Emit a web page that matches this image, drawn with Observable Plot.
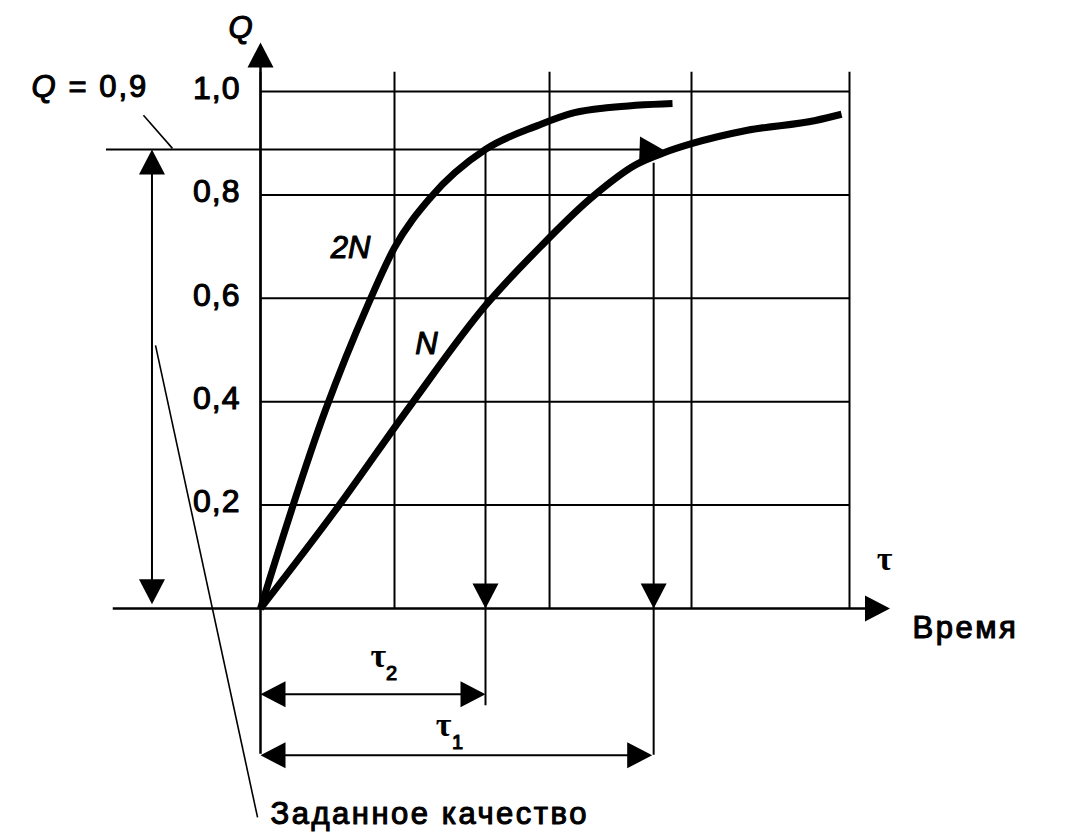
<!DOCTYPE html>
<html><head><meta charset="utf-8">
<script src="https://cdn.jsdelivr.net/npm/d3@7"></script>
<script src="https://cdn.jsdelivr.net/npm/@observablehq/plot@0.6"></script>
<style>body{margin:0;background:#fff}</style>
</head><body><div id="chart"></div>
<script>
// Curve 2N (time, quality)
const tau2N = [0, 0.44, 0.727, 0.910, 1.155, 1.528, 1.881, 2.132, 2.370, 2.798];
const q2N   = [0, 0.383, 0.586, 0.698, 0.795, 0.888, 0.934, 0.959, 0.969, 0.977];
// Curve N
const tauN = [0, 0.509, 1.019, 1.528, 1.902, 2.241, 2.553, 2.744, 2.927, 3.307, 3.769, 3.946];
const qN   = [0, 0.190, 0.393, 0.586, 0.700, 0.793, 0.859, 0.882, 0.899, 0.925, 0.944, 0.956];
// Grid
const gridX = [0, 0.91, 1.963, 2.927, 4.0];
const gridY = [0.2, 0.4, 0.6, 0.8, 1.0];
const yTickLabels = ["0,2", "0,4", "0,6", "0,8", "1,0"];
// Target quality and times to reach it
const qTarget = 0.888;
const tau2 = 1.528;
const tau1 = 2.67;

const rows2N = tau2N.map((t, i) => ({t, q: q2N[i]}));
const rowsN = tauN.map((t, i) => ({t, q: qN[i]}));
const ticks = gridY.map((v, i) => ({v, label: yTickLabels[i]}));

// filled triangle with tip at origin, pointing up
const tri = {draw(ctx, size) {
  const r = Math.sqrt(size / Math.PI);
  ctx.moveTo(0, 0); ctx.lineTo(-r * 0.52, r); ctx.lineTo(r * 0.52, r); ctx.closePath();
}};
const heads = [
  {t: 0, q: 1.095, rot: 0},          // y axis
  {t: 4.275, q: 0, rot: 90},          // x axis
  {t: tau2, q: 0, rot: 180},
  {t: tau1, q: 0, rot: 180},
  {t: -0.737, q: qTarget, rot: 0},
  {t: -0.737, q: 0.008, rot: 180},
  {t: 0, q: -0.166, rot: -90},
  {t: tau2, q: -0.166, rot: 90},
  {t: 0, q: -0.284, rot: -90},
  {t: tau1 - 0.01, q: -0.284, rot: 90},
  {t: 2.744, q: 0.886, rot: 92}
];
const font = "'Liberation Sans', Arial, sans-serif";
const serif = "'Liberation Serif', 'Times New Roman', serif";
const heavy = {stroke: "black", strokeWidth: 1.1, fill: "black"};

const chart = Plot.plot({
  width: 1078, height: 838,
  marginLeft: 260, marginRight: 229, marginTop: 91, marginBottom: 230,
  x: {domain: [0, 4], axis: null},
  y: {domain: [0, 1], axis: null},
  style: {fontFamily: font, fontSize: "31px", background: "white", color: "black"},
  marks: [
    Plot.ruleX(gridX, {y1: 0, y2: 1.037, strokeWidth: 2}),
    Plot.ruleY(gridY, {x1: 0, x2: 4, strokeWidth: 2}),
    Plot.ruleY([0], {x1: -1.0, x2: 4.2, strokeWidth: 2.5}),
    Plot.ruleX([0], {y1: -0.282, y2: 1.06, strokeWidth: 2.5}),
    Plot.ruleY([qTarget], {x1: -1.046, x2: 2.58, strokeWidth: 2}),
    Plot.ruleX([tau2], {y1: -0.188, y2: qTarget, strokeWidth: 2}),
    Plot.ruleX([tau1], {y1: -0.284, y2: 0.861, strokeWidth: 2}),
    Plot.ruleX([-0.737], {y1: 0.03, y2: qTarget - 0.03, strokeWidth: 2}),
    Plot.ruleY([-0.166], {x1: 0.1, x2: tau2 - 0.1, strokeWidth: 2}),
    Plot.ruleY([-0.284], {x1: 0.1, x2: tau1 - 0.1, strokeWidth: 2}),
    Plot.link([0], {x1: -0.795, y1: 0.954, x2: -0.598, y2: 0.89, strokeWidth: 1.6}),
    Plot.link([0], {x1: -0.713, y1: 0.509, x2: -0.02, y2: -0.404, strokeWidth: 1.6}),
    Plot.line(rows2N, {x: "t", y: "q", curve: "monotone-x", strokeWidth: 7, strokeLinecap: "butt"}),
    Plot.line(rowsN, {x: "t", y: "q", curve: "monotone-x", strokeWidth: 7, strokeLinecap: "butt"}),
    Plot.dot(heads, {x: "t", y: "q", rotate: "rot", symbol: tri, r: 25, fill: "black", stroke: "none"}),
    Plot.text(ticks, {x: -0.136, y: "v", text: "label", textAnchor: "end", dy: -3, fontSize: 32, ...heavy}),
    Plot.text(["Q"], {x: -0.136, y: 1.122, fontStyle: "italic", fontSize: 31, ...heavy}),
    Plot.text(["Q"], {x: -1.474, y: 1.008, fontStyle: "italic", fontSize: 31, ...heavy}),
    Plot.text(["= 0,9"], {x: -1.304, y: 1.008, textAnchor: "start", fontSize: 31, ...heavy}),
    Plot.text(["2N"], {x: 0.611, y: 0.698, fontStyle: "italic", fontSize: 31, ...heavy}),
    Plot.text(["N"], {x: 1.127, y: 0.511, fontStyle: "italic", fontSize: 31, ...heavy}),
    Plot.text(["τ"], {x: 4.238, y: 0.095, fontSize: 34, fontFamily: serif, fontWeight: "bold"}),
    Plot.text(["Время"], {x: 4.428, y: -0.038, textAnchor: "start", fontSize: 31, ...heavy}),
    Plot.text(["τ"], {x: 0.801, y: -0.093, fontSize: 34, fontFamily: serif, fontWeight: "bold"}),
    Plot.text(["2"], {x: 0.89, y: -0.126, fontSize: 20, ...heavy}),
    Plot.text(["τ"], {x: 1.243, y: -0.226, fontSize: 34, fontFamily: serif, fontWeight: "bold"}),
    Plot.text(["1"], {x: 1.338, y: -0.259, fontSize: 20, ...heavy}),
    Plot.text(["Заданное качество"], {x: 0.068, y: -0.398, textAnchor: "start", fontSize: 31, ...heavy})
  ]
});
// wider letter spacing as in the printed original
chart.querySelectorAll("text").forEach(el => {
  const s = el.textContent;
  if (/[А-Яа-я]/.test(s)) el.setAttribute("letter-spacing", "2.5");
  else if (s === "= 0,9") el.setAttribute("letter-spacing", "2");
  else if (/^\d,\d$/.test(s)) el.setAttribute("letter-spacing", "1");
});
document.getElementById("chart").appendChild(chart);
</script>
</body></html>
